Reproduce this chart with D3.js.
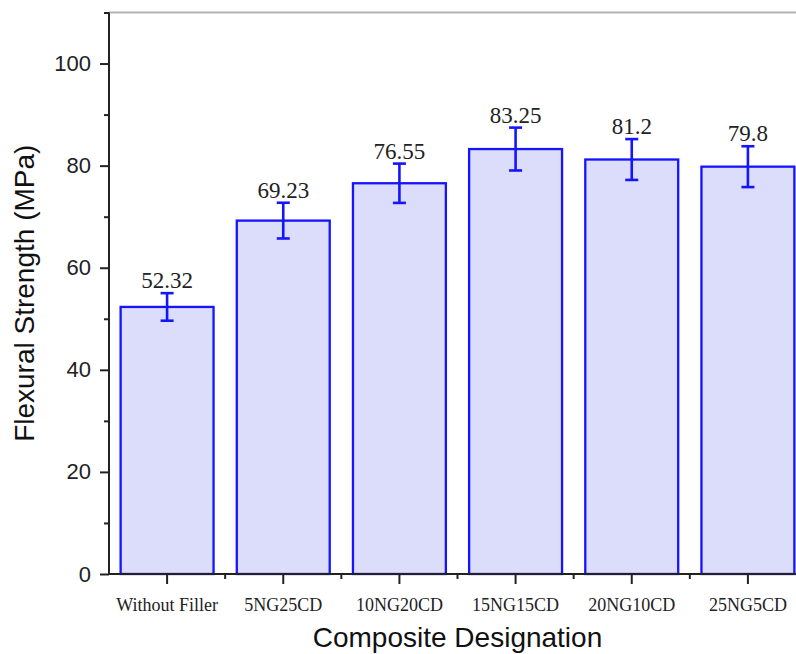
<!DOCTYPE html>
<html>
<head>
<meta charset="utf-8">
<script src="https://cdn.jsdelivr.net/npm/d3@7"></script>
<style>
  html, body { margin: 0; padding: 0; background: #fff; }
  svg { display: block; }
</style>
</head>
<body>
<svg id="chart" width="796" height="654"></svg>
<script>
// Flexural strength of each composite formulation, with standard deviation
const categories = ["Without Filler", "5NG25CD", "10NG20CD", "15NG15CD", "20NG10CD", "25NG5CD"];
const strength = [52.32, 69.23, 76.55, 83.25, 81.2, 79.8];
const strengthErr = [2.7, 3.5, 3.85, 4.2, 4.0, 4.0];
const strengthLabels = ["52.32", "69.23", "76.55", "83.25", "81.2", "79.8"];
const yTicks = [0, 20, 40, 60, 80, 100];
const yMinorTicks = [10, 30, 50, 70, 90];

const svg = d3.select("#chart");
const plotLeft = 109, plotRight = 806, plotTop = 12.5, plotBottom = 574;

const x = d3.scaleBand()
  .domain(categories)
  .range([plotLeft, plotRight])
  .paddingInner(0.2)
  .paddingOuter(0.1);

const y = d3.scaleLinear().domain([0, 110]).range([plotBottom, plotTop]);

const barFill = "#dcdcfb";
const barStroke = "#1414ff";
const axisColor = "#222";

// top frame line
svg.append("line")
  .attr("x1", plotLeft).attr("x2", plotRight)
  .attr("y1", y(110)).attr("y2", y(110))
  .attr("stroke", "#b4b4b4").attr("stroke-width", 2);

// bars
svg.append("g").selectAll("rect")
  .data(categories)
  .join("rect")
  .attr("x", d => x(d))
  .attr("y", (d, i) => y(strength[i]))
  .attr("width", x.bandwidth())
  .attr("height", (d, i) => y(0) - y(strength[i]))
  .attr("fill", barFill)
  .attr("stroke", barStroke)
  .attr("stroke-width", 2.3);

// error bars
const cx = d => x(d) + x.bandwidth() / 2;
const capHalf = 6.5;
const err = svg.append("g").attr("stroke", barStroke).attr("stroke-width", 2.6);
categories.forEach((d, i) => {
  const hi = y(strength[i] + strengthErr[i]);
  const lo = y(strength[i] - strengthErr[i]);
  err.append("line").attr("x1", cx(d)).attr("x2", cx(d)).attr("y1", hi).attr("y2", lo);
  err.append("line").attr("x1", cx(d) - capHalf).attr("x2", cx(d) + capHalf).attr("y1", hi).attr("y2", hi);
  err.append("line").attr("x1", cx(d) - capHalf).attr("x2", cx(d) + capHalf).attr("y1", lo).attr("y2", lo);
});

// value labels above error bars
svg.append("g").selectAll("text")
  .data(categories)
  .join("text")
  .attr("x", d => cx(d))
  .attr("y", (d, i) => y(strength[i] + strengthErr[i]) - 5)
  .attr("text-anchor", "middle")
  .attr("font-family", "'Liberation Serif', 'Times New Roman', serif")
  .attr("font-size", 23)
  .attr("fill", "#222")
  .text((d, i) => strengthLabels[i]);

// y axis
const yAxis = svg.append("g").attr("transform", `translate(${plotLeft},0)`)
  .call(d3.axisLeft(y).tickValues(yTicks).tickSize(9).tickPadding(9).tickFormat(d3.format("d")));
yAxis.select(".domain").attr("stroke", axisColor).attr("stroke-width", 2)
  .attr("d", `M0,${y(110)}V${y(0)}`);
yAxis.selectAll(".tick line").attr("stroke", axisColor).attr("stroke-width", 2);
yAxis.selectAll(".tick text")
  .attr("font-family", "'Liberation Sans', Arial, sans-serif")
  .attr("font-size", 22).attr("fill", "#222");
svg.append("g").attr("transform", `translate(${plotLeft},0)`)
  .call(d3.axisLeft(y).tickValues(yMinorTicks.concat([110])).tickSize(5).tickFormat(""))
  .call(g => g.select(".domain").remove())
  .selectAll(".tick line").attr("stroke", axisColor).attr("stroke-width", 2);

// x axis
const xAxis = svg.append("g").attr("transform", `translate(0,${plotBottom})`)
  .call(d3.axisBottom(x).tickSize(10).tickPadding(14));
xAxis.select(".domain").attr("stroke", axisColor).attr("stroke-width", 2)
  .attr("d", `M${plotLeft},0H${plotRight}`);
xAxis.selectAll(".tick line").attr("stroke", axisColor).attr("stroke-width", 2);
xAxis.selectAll(".tick text")
  .attr("font-family", "'Liberation Serif', 'Times New Roman', serif")
  .attr("font-size", 18).attr("fill", "#222");

// minor ticks at category boundaries
const bounds = d3.range(1, categories.length).map(i => x(categories[i]) - x.step() * x.paddingInner() / 2);
svg.append("g").selectAll("line")
  .data(bounds)
  .join("line")
  .attr("x1", d => d).attr("x2", d => d)
  .attr("y1", plotBottom).attr("y2", plotBottom + 5)
  .attr("stroke", axisColor).attr("stroke-width", 2);

// axis titles
svg.append("text")
  .attr("x", (plotLeft + plotRight) / 2).attr("y", 647)
  .attr("text-anchor", "middle")
  .attr("font-family", "'Liberation Sans', Arial, sans-serif")
  .attr("font-size", 28).attr("fill", "#111")
  .text("Composite Designation");

svg.append("text")
  .attr("transform", `translate(33.5,${(plotTop + plotBottom) / 2}) rotate(-90)`)
  .attr("text-anchor", "middle")
  .attr("font-family", "'Liberation Sans', Arial, sans-serif")
  .attr("font-size", 28).attr("fill", "#111")
  .text("Flexural Strength (MPa)");
</script>
</body>
</html>
